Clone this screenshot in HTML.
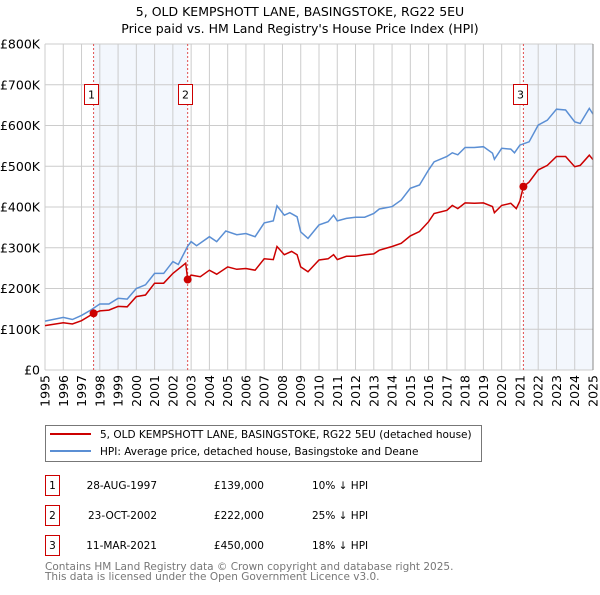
<!DOCTYPE html>
<html><head><meta charset="utf-8"><style>
body{margin:0;background:#fff;}
svg text{font-family:"DejaVu Sans","Liberation Sans",sans-serif;}
</style></head><body>
<svg id="chart" width="600" height="590" xmlns="http://www.w3.org/2000/svg">
<text x="300" y="16" font-size="12.5" text-anchor="middle" fill="#000">5, OLD KEMPSHOTT LANE, BASINGSTOKE, RG22 5EU</text>
<text x="300" y="33" font-size="12.5" text-anchor="middle" fill="#000">Price paid vs. HM Land Registry's House Price Index (HPI)</text>
<g id="plot"></g>
<g>
<rect x="45.5" y="425.5" width="436" height="36" fill="#fff" stroke="#777"/>
<line x1="50" y1="434" x2="91" y2="434" stroke="#cc0000" stroke-width="2"/>
<text x="100" y="438" font-size="10.5">5, OLD KEMPSHOTT LANE, BASINGSTOKE, RG22 5EU (detached house)</text>
<line x1="50" y1="451" x2="91" y2="451" stroke="#5b8fd4" stroke-width="2"/>
<text x="100" y="455" font-size="10.5">HPI: Average price, detached house, Basingstoke and Deane</text>
</g>
<g id="table"></g>
<text x="45" y="570" font-size="10.5" fill="#777">Contains HM Land Registry data © Crown copyright and database right 2025.</text>
<text x="45" y="580" font-size="10.5" fill="#777">This data is licensed under the Open Government Licence v3.0.</text>
</svg>
<script>
const yTicks=[0,100,200,300,400,500,600,700,800];
const yTickLabels=["£0","£100K","£200K","£300K","£400K","£500K","£600K","£700K","£800K"];
const xYears=[1995,1996,1997,1998,1999,2000,2001,2002,2003,2004,2005,2006,2007,2008,2009,2010,2011,2012,2013,2014,2015,2016,2017,2018,2019,2020,2021,2022,2023,2024,2025];
const hpiT=[1995,1996,1996.5,1997,1997.5,1998,1998.5,1999,1999.5,2000,2000.5,2001,2001.5,2002,2002.3,2002.8,2003,2003.3,2004,2004.4,2004.9,2005.5,2006,2006.5,2007,2007.5,2007.7,2008.1,2008.4,2008.8,2009,2009.4,2010,2010.5,2010.8,2011,2011.5,2012,2012.5,2013,2013.3,2014,2014.5,2015,2015.5,2016,2016.3,2017,2017.3,2017.6,2018,2018.5,2019,2019.5,2019.6,2020,2020.5,2020.7,2021,2021.5,2022,2022.5,2023,2023.5,2024,2024.3,2024.8,2025];
const hpiV=[120,129,124,134,147,162,162,176,174,200,209,237,237,266,259,303,315,305,327,315,341,332,335,327,361,366,403,380,386,376,339,323,356,364,380,366,372,375,375,384,395,401,417,446,454,491,511,524,533,528,546,546,548,532,517,544,542,533,552,560,601,613,640,638,609,605,642,628];
const ppT=[1995,1996,1996.5,1997,1997.66,1998,1998.5,1999,1999.5,2000,2000.5,2001,2001.5,2002,2002.7,2002.81,2003,2003.5,2004,2004.4,2005,2005.5,2006,2006.5,2007,2007.5,2007.7,2008.1,2008.5,2008.8,2009,2009.4,2010,2010.5,2010.8,2011,2011.5,2012,2012.5,2013,2013.3,2014,2014.5,2015,2015.5,2016,2016.3,2017,2017.3,2017.6,2018,2018.5,2019,2019.5,2019.6,2020,2020.5,2020.8,2021,2021.19,2021.5,2022,2022.5,2023,2023.5,2024,2024.3,2024.8,2025];
const ppV=[109,116,113,121,139,145,147,156,155,180,184,213,213,237,262,222,233,229,245,235,253,247,249,245,273,271,303,283,291,283,253,241,270,273,283,271,279,279,283,285,294,303,311,329,340,364,384,392,404,396,410,409,410,401,386,404,409,396,415,450,461,491,502,524,524,499,502,527,516];
const saleLabels=["1","2","3"];
const saleT=[1997.66,2002.81,2021.19];
const saleV=[139,222,450];
const saleDates=["28-AUG-1997","23-OCT-2002","11-MAR-2021"];
const salePrices=["£139,000","£222,000","£450,000"];
const saleDiffs=["10% ↓ HPI","25% ↓ HPI","18% ↓ HPI"];

const X0=45,X1=593,Y0=370,Y1=44;
const xs=t=>X0+(t-1995)/30*(X1-X0);
const ys=v=>Y0-v/800*(Y0-Y1);
const NS="http://www.w3.org/2000/svg";
const plot=document.getElementById('plot');
function mk(tag,attrs,parent){const e=document.createElementNS(NS,tag);for(const k in attrs)e.setAttribute(k,attrs[k]);(parent||plot).appendChild(e);return e;}
let s1=mk('rect',{x:xs(saleT[0]),y:Y1,width:xs(saleT[1])-xs(saleT[0]),height:Y0-Y1,fill:'#eef3fc',opacity:0.7});


let s2=mk('rect',{x:xs(saleT[2]),y:Y1,width:X1-xs(saleT[2]),height:Y0-Y1,fill:'#eef3fc',opacity:0.7});


yTicks.forEach((v,i)=>{
 let l=mk('line',{x1:X0,x2:X1,y1:ys(v),y2:ys(v),stroke:'#cccccc'});
 
 
 let t=mk('text',{x:40,y:ys(v)+4.5,'font-size':12.5,'text-anchor':'end',fill:'#000'});
 
 
 t.textContent=yTickLabels[i];
});
xYears.forEach(yr=>{
 let l=mk('line',{x1:xs(yr),x2:xs(yr),y1:Y1,y2:Y0,stroke:'#cccccc'});
 
 
 let t=mk('text',{x:0,y:0,'font-size':12.5,'text-anchor':'end',fill:'#000',transform:`translate(${xs(yr)+4.5},375) rotate(-90)`});
 
 
 t.textContent=yr;
});
saleT.forEach((t,i)=>{
 let l=mk('line',{x1:xs(t),x2:xs(t),y1:Y1,y2:Y0,stroke:'#e05050','stroke-dasharray':'2,2'});
 
 
 const bx=Math.round(xs(t)-10)+0.5;
 let b=mk('rect',{x:bx,y:84.5,width:14,height:20,fill:'#fff',stroke:'#cc0000'});
 
 
 let tx=mk('text',{x:bx+7,y:98.5,'font-size':11,'text-anchor':'middle'});
 
 
 tx.textContent=saleLabels[i];
});
const pathOf=(T,V)=>T.map((t,i)=>(i?'L':'M')+xs(t).toFixed(1)+','+ys(V[i]).toFixed(1)).join(' ');
let hp=mk('path',{d:pathOf(hpiT,hpiV),fill:'none',stroke:'#5b8fd4','stroke-width':1.5});


let pp=mk('path',{d:pathOf(ppT,ppV),fill:'none',stroke:'#cc0000','stroke-width':1.5});


saleT.forEach((t,i)=>{
 let c=mk('circle',{cx:xs(t),cy:ys(saleV[i]),r:4,fill:'#cc0000'});
 
 
});
let ax=mk('line',{x1:X1,x2:X1,y1:Y1,y2:Y0,stroke:'#888'});


const tb=document.getElementById('table');
saleLabels.forEach((lab,i)=>{
 const y=475+i*30;
 let r=mk('rect',{x:45.5,y:y+0.5,width:14,height:20,fill:'#fff',stroke:'#cc0000'},tb);
 
 
 const cells=[[52.5,lab,'middle'],[157,saleDates[i],'end'],[264,salePrices[i],'end'],[312,saleDiffs[i],'start']];
 cells.forEach(c=>{
  let t=mk('text',{x:c[0],y:y+14,'font-size':10.5,'text-anchor':c[2]},tb);
  
  
  t.textContent=c[1];
 });
});
</script>
</body></html>
